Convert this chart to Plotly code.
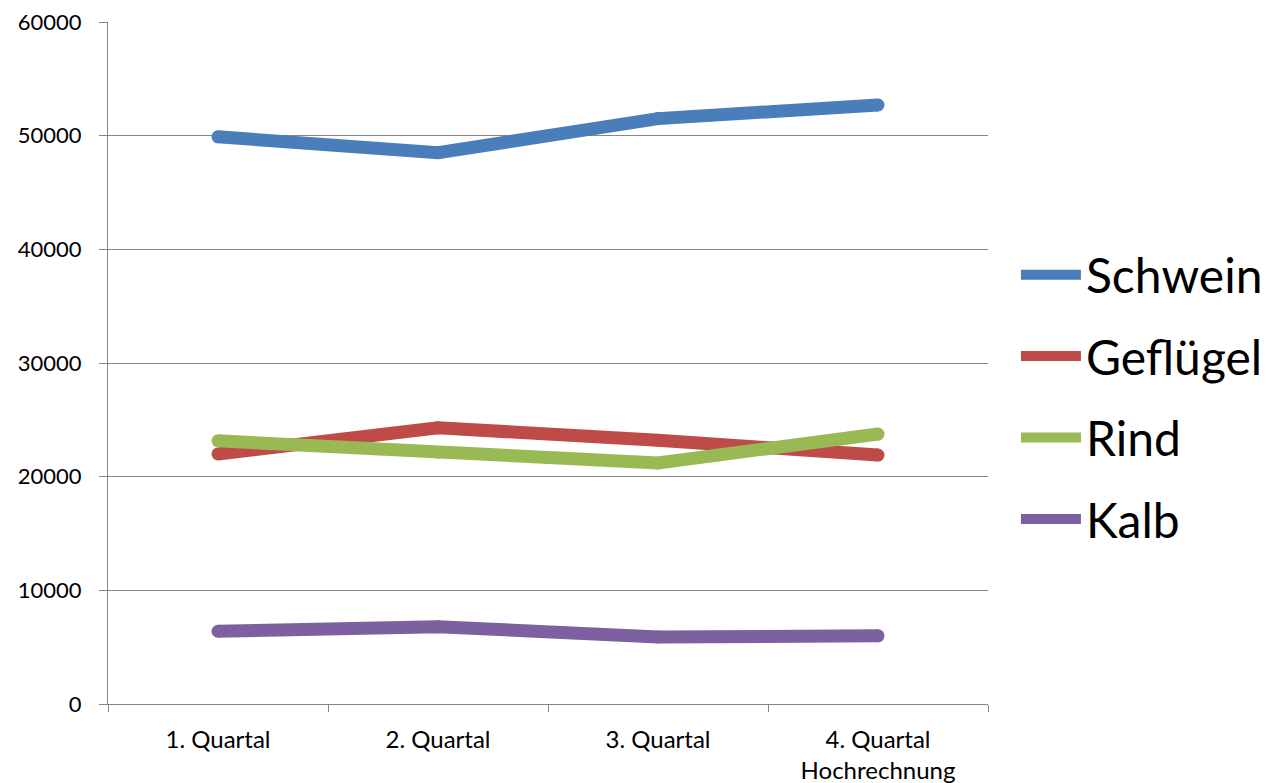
import plotly.graph_objects as go

categories = ["1. Quartal", "2. Quartal", "3. Quartal", "4. Quartal<br>Hochrechnung"]
schwein = [49900, 48500, 51500, 52700]
gefluegel = [22000, 24300, 23200, 21900]
rind = [23150, 22150, 21200, 23750]
kalb = [6400, 6800, 5900, 6000]

series = [
    ("Schwein", schwein, "#4A7EBB"),
    ("Geflügel", gefluegel, "#BE4B48"),
    ("Rind", rind, "#98B954"),
    ("Kalb", kalb, "#7D60A0"),
]

fig = go.Figure()
for name, vals, color in series:
    fig.add_trace(go.Scatter(
        x=categories, y=vals, name=name, mode="lines", legendgroup=name,
        line=dict(color=color, width=13),
    ))
    fig.add_trace(go.Scatter(
        x=categories, y=vals, name=name, mode="markers", legendgroup=name,
        showlegend=False, hoverinfo="skip",
        marker=dict(color=color, size=13, line=dict(width=0)),
    ))

fig.update_layout(
    width=1272, height=783,
    margin=dict(l=108, r=284, t=22, b=79),
    paper_bgcolor="white", plot_bgcolor="white",
    font=dict(family="Lato, Carlito, sans-serif", color="#000000"),
    showlegend=True,
    legend=dict(
        xref="container", yref="container",
        x=0.7987, y=0.493, xanchor="left", yanchor="middle",
        font=dict(size=48, family="Lato, Carlito, sans-serif", color="#000000"),
        tracegroupgap=16, itemwidth=60,
        bgcolor="rgba(0,0,0,0)",
    ),
)
fig.update_xaxes(
    type="category", range=[-0.5, 3.5], automargin=False,
    tickson="boundaries", ticks="outside", ticklen=7, tickcolor="#868686",
    showline=True, linecolor="#868686", linewidth=1,
    showgrid=False, tickfont=dict(size=24), ticklabelstandoff=14,
)
fig.update_yaxes(
    range=[0, 60000], dtick=10000, tickformat="d", automargin=False,
    ticks="outside", ticklen=8, tickcolor="#868686",
    showline=True, linecolor="#868686", linewidth=1,
    showgrid=True, gridcolor="#868686", gridwidth=1,
    zeroline=False, tickfont=dict(size=22), ticklabelstandoff=13,
)

fig.write_html("out.html")
